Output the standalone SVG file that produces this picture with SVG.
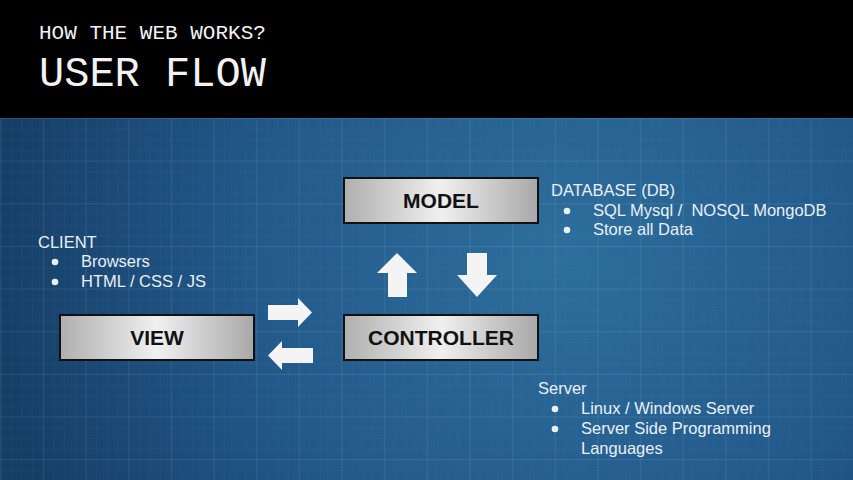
<svg xmlns="http://www.w3.org/2000/svg" width="853" height="480" viewBox="0 0 853 480">
  <defs>
    <radialGradient id="bgGlow" cx="560" cy="260" r="560" gradientUnits="userSpaceOnUse">
      <stop offset="0" stop-color="#2d6e9c"/>
      <stop offset="0.55" stop-color="#22598a"/>
      <stop offset="1" stop-color="#163f68"/>
    </radialGradient>
    <linearGradient id="boxFill" x1="0" y1="0" x2="1" y2="0">
      <stop offset="0" stop-color="#afafaf"/>
      <stop offset="0.5" stop-color="#f0f0f0"/>
      <stop offset="1" stop-color="#a8a8a8"/>
    </linearGradient>
    <pattern id="minorGrid" x="0" y="118" width="10.66" height="10.66" patternUnits="userSpaceOnUse">
      <path d="M0 0H10.66M0 0V10.66" fill="none" stroke="#ffffff" stroke-opacity="0.05" stroke-width="1"/>
    </pattern>
    <pattern id="majorGrid" x="0.5" y="118" width="42.65" height="42.65" patternUnits="userSpaceOnUse">
      <path d="M0 0H42.65M0 0V42.65" fill="none" stroke="#ffffff" stroke-opacity="0.13" stroke-width="1"/>
    </pattern>
  </defs>
  <style>
    .hdr { font-family: "Liberation Mono", "DejaVu Sans Mono", monospace; fill: #f2f2f2; }
    .note { font-family: "Liberation Sans", Arial, sans-serif; font-size: 16.5px; fill: #e9f0f5; white-space: pre; }
    .box { fill: url(#boxFill); stroke: #111; stroke-width: 2; }
    .lbl { font-family: "Liberation Sans", Arial, sans-serif; font-weight: bold; font-size: 21px; fill: #111; text-anchor: middle; }
    .flow { fill: #f4f4f4; }
    .dot { fill: #e9f0f5; }
  </style>

  <!-- backdrop -->
  <rect x="0" y="0" width="853" height="480" fill="url(#bgGlow)"/>
  <rect x="0" y="118" width="853" height="362" fill="url(#minorGrid)"/>
  <rect x="0" y="118" width="853" height="362" fill="url(#majorGrid)"/>
  <rect x="0" y="0" width="853" height="118" fill="#000"/>

  <!-- title -->
  <text class="hdr" x="39" y="39" font-size="21">HOW THE WEB WORKS?</text>
  <text class="hdr" x="39" y="86" font-size="42">USER FLOW</text>

  <!-- connectors -->
  <g id="connectors">
    <polygon class="flow" points="268,305 298,305 298,298 312,312.5 298,327 298,320 268,320"/>
    <polygon class="flow" points="313,348 282,348 282,341 268,355.5 282,370 282,363 313,363"/>
    <polygon class="flow" points="388,297 388,273 377,273 397,253 417,273 407,273 407,297"/>
    <polygon class="flow" points="467,253 487,253 487,275 497,275 477,297 457,275 467,275"/>
  </g>

  <!-- nodes -->
  <g id="model">
    <rect class="box" x="344" y="178" width="194" height="45"/>
    <text class="lbl" x="441" y="208">MODEL</text>
  </g>
  <g id="controller">
    <rect class="box" x="344" y="315" width="194" height="45"/>
    <text class="lbl" x="441" y="345">CONTROLLER</text>
  </g>
  <g id="view">
    <rect class="box" x="60" y="315" width="194" height="45"/>
    <text class="lbl" x="157" y="345">VIEW</text>
  </g>

  <!-- notes -->
  <g id="database-note">
    <text class="note" x="551" y="196">DATABASE (DB)</text>
    <circle class="dot" cx="567" cy="211" r="3.3"/>
    <text class="note" x="593" y="216" xml:space="preserve">SQL Mysql /  NOSQL MongoDB</text>
    <circle class="dot" cx="567" cy="230" r="3.3"/>
    <text class="note" x="593" y="235">Store all Data</text>
  </g>
  <g id="client-note">
    <text class="note" x="38" y="248">CLIENT</text>
    <circle class="dot" cx="55" cy="262" r="3.3"/>
    <text class="note" x="81" y="267">Browsers</text>
    <circle class="dot" cx="55" cy="282" r="3.3"/>
    <text class="note" x="81" y="287">HTML / CSS / JS</text>
  </g>
  <g id="server-note">
    <text class="note" x="538" y="394">Server</text>
    <circle class="dot" cx="555" cy="409" r="3.3"/>
    <text class="note" x="581" y="414">Linux / Windows Server</text>
    <circle class="dot" cx="555" cy="429" r="3.3"/>
    <text class="note" x="581" y="434">Server Side Programming</text>
    <text class="note" x="581" y="454">Languages</text>
  </g>
</svg>
